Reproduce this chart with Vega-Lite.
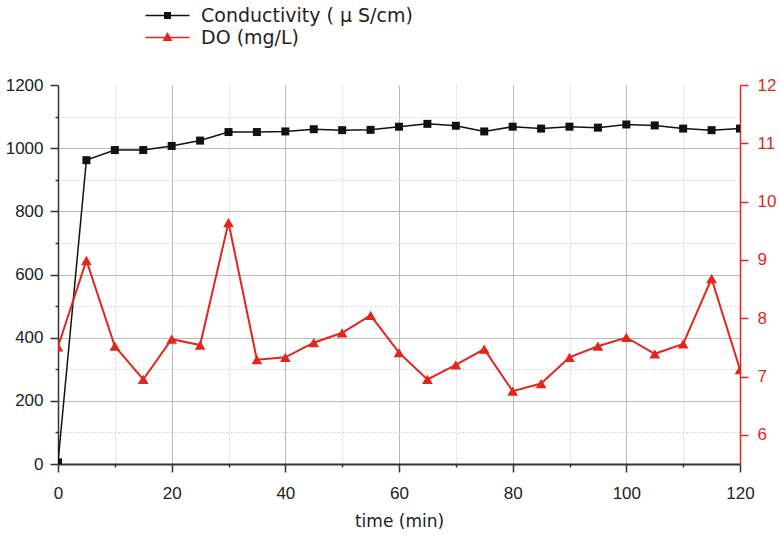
{
  "$schema": "https://vega.github.io/schema/vega-lite/v6.json",
  "width": 682,
  "height": 379,
  "autosize": {"type": "none"},
  "padding": {"left": 58, "top": 85, "right": 40, "bottom": 72},
  "background": "white",
  "config": {
    "view": {"stroke": null},
    "font": "Liberation Sans",
    "legend": {
      "orient": "none",
      "legendX": 100,
      "legendY": -79,
      "symbolSize": 100,
      "symbolStrokeWidth": 1.5,
      "symbolOpacity": 1,
      "labelFont": "DejaVu Sans",
      "labelFontSize": 19,
      "labelColor": "#222222",
      "labelOffset": 24,
      "labelLimit": 0,
      "rowPadding": 2
    }
  },
  "data": {
    "values": [
      {"time": 0, "conductivity": 5, "DO": 7.51},
      {"time": 5, "conductivity": 962, "DO": 8.99},
      {"time": 10, "conductivity": 994, "DO": 7.52},
      {"time": 15, "conductivity": 994, "DO": 6.95},
      {"time": 20, "conductivity": 1007, "DO": 7.64},
      {"time": 25, "conductivity": 1024, "DO": 7.54},
      {"time": 30, "conductivity": 1051, "DO": 9.64},
      {"time": 35, "conductivity": 1051, "DO": 7.29},
      {"time": 40, "conductivity": 1053, "DO": 7.33},
      {"time": 45, "conductivity": 1060, "DO": 7.58},
      {"time": 50, "conductivity": 1057, "DO": 7.75},
      {"time": 55, "conductivity": 1058, "DO": 8.05},
      {"time": 60, "conductivity": 1068, "DO": 7.41},
      {"time": 65, "conductivity": 1077, "DO": 6.95},
      {"time": 70, "conductivity": 1071, "DO": 7.20},
      {"time": 75, "conductivity": 1053, "DO": 7.47},
      {"time": 80, "conductivity": 1068, "DO": 6.75},
      {"time": 85, "conductivity": 1062, "DO": 6.88},
      {"time": 90, "conductivity": 1068, "DO": 7.33},
      {"time": 95, "conductivity": 1065, "DO": 7.52},
      {"time": 100, "conductivity": 1075, "DO": 7.67},
      {"time": 105, "conductivity": 1072, "DO": 7.39},
      {"time": 110, "conductivity": 1062, "DO": 7.56},
      {"time": 115, "conductivity": 1057, "DO": 8.68},
      {"time": 120, "conductivity": 1062, "DO": 7.12}
    ]
  },
  "encoding": {
    "x": {
      "field": "time",
      "type": "quantitative",
      "scale": {"domain": [0, 120], "nice": false, "zero": false},
      "axis": {
        "values": [0, 10, 20, 30, 40, 50, 60, 70, 80, 90, 100, 110, 120],
        "labelExpr": "datum.value % 20 === 0 ? datum.label : ''",
        "title": "time (min)",
        "grid": true,
        "gridColor": {"condition": {"test": "datum.value % 20 !== 0", "value": "#d4d4d4"}, "value": "#b8b8b8"},
        "gridDash": {"condition": {"test": "datum.value % 20 !== 0", "value": [2, 2]}, "value": []},
        "gridWidth": 1,
        "domainColor": "#333333",
        "domainWidth": 2,
        "tickColor": "#333333",
        "tickWidth": 1.5,
        "tickSize": {"condition": {"test": "datum.value % 20 !== 0", "value": 3}, "value": 8},
        "labelFont": "Liberation Sans",
        "labelFontSize": 17,
        "labelColor": "#222222",
        "labelPadding": 13,
        "labelFlush": false,
        "labelOverlap": false,
        "titleFont": "DejaVu Sans",
        "titleFontSize": 17,
        "titleFontWeight": "normal",
        "titleColor": "#222222",
        "titlePadding": 12
      }
    }
  },
  "layer": [
    {
      "encoding": {
        "y": {
          "field": "conductivity",
          "type": "quantitative",
          "scale": {"domain": [0, 1200], "nice": false},
          "axis": {
            "orient": "left",
            "values": [0, 100, 200, 300, 400, 500, 600, 700, 800, 900, 1000, 1100, 1200],
            "format": "d",
            "labelExpr": "datum.value % 200 === 0 ? datum.label : ''",
            "title": null,
            "grid": true,
            "gridColor": {"condition": {"test": "datum.value % 200 !== 0", "value": "#d4d4d4"}, "value": "#bcbcbc"},
            "gridDash": {"condition": {"test": "datum.value % 200 !== 0", "value": [2, 2]}, "value": []},
            "gridOpacity": {"condition": {"test": "datum.value === 1200 || datum.value === 0", "value": 0}, "value": 1},
            "gridWidth": 1.2,
            "domainColor": "#333333",
            "domainWidth": 1.5,
            "tickColor": "#333333",
            "tickWidth": 1.5,
            "tickSize": {"condition": {"test": "datum.value % 200 !== 0", "value": 3}, "value": 8},
            "labelFont": "Liberation Sans",
            "labelFontSize": 17,
            "labelColor": "#222222",
            "labelPadding": 7
          }
        }
      },
      "layer": [
        {"mark": {"type": "line", "color": "#111111", "strokeWidth": 1.5, "clip": true}, "encoding": {}},
        {"mark": {"type": "point", "shape": "square", "filled": true, "size": 64, "opacity": 1, "color": "#111111", "clip": true}, "encoding": {}},
        {
          "mark": {"type": "point", "filled": true, "size": 0, "strokeWidth": 0, "clip": true},
          "encoding": {
            "fill": {
              "datum": "Conductivity ( μ S/cm)",
              "type": "nominal",
              "scale": {"domain": ["Conductivity ( μ S/cm)", "DO (mg/L)"], "range": ["#111111", "#e3261c"]},
              "legend": {"title": null}
            },
            "stroke": {
              "datum": "Conductivity ( μ S/cm)",
              "type": "nominal",
              "scale": {"domain": ["Conductivity ( μ S/cm)", "DO (mg/L)"], "range": ["#111111", "#e3261c"]},
              "legend": {"title": null}
            },
            "shape": {
              "datum": "Conductivity ( μ S/cm)",
              "type": "nominal",
              "scale": {"domain": ["Conductivity ( μ S/cm)", "DO (mg/L)"], "range": ["M-4.4,0H4.4M-0.55,-0.55H0.55V0.55H-0.55Z", "M-4.4,0H4.4M0,-0.8L0.75,0.55H-0.75Z"]},
              "legend": {"title": null}
            }
          }
        }
      ]
    },
    {
      "encoding": {
        "y": {
          "field": "DO",
          "type": "quantitative",
          "scale": {"domain": [5.5, 12], "nice": false, "zero": false},
          "axis": {
            "orient": "right",
            "values": [6, 6.5, 7, 7.5, 8, 8.5, 9, 9.5, 10, 10.5, 11, 11.5, 12],
            "format": "d",
            "labelExpr": "datum.value % 1 === 0 ? datum.label : ''",
            "title": null,
            "grid": false,
            "domainColor": "#e3261c",
            "domainWidth": 1.5,
            "tickColor": "#e3261c",
            "tickWidth": 1.5,
            "tickSize": {"condition": {"test": "datum.value % 1 !== 0", "value": 3}, "value": 8},
            "labelFont": "Liberation Sans",
            "labelFontSize": 17,
            "labelColor": "#e3261c",
            "labelPadding": 9
          }
        }
      },
      "layer": [
        {"mark": {"type": "line", "color": "#e3261c", "strokeWidth": 2, "clip": true}, "encoding": {}},
        {"mark": {"type": "point", "shape": "triangle-up", "filled": true, "size": 115, "opacity": 1, "color": "#e3261c", "clip": true}, "encoding": {}},
        {
          "mark": {"type": "point", "filled": true, "size": 0, "strokeWidth": 0, "clip": true},
          "encoding": {
            "fill": {"datum": "DO (mg/L)", "type": "nominal", "legend": {"title": null}},
            "stroke": {"datum": "DO (mg/L)", "type": "nominal", "legend": {"title": null}},
            "shape": {"datum": "DO (mg/L)", "type": "nominal", "legend": {"title": null}}
          }
        }
      ]
    }
  ],
  "resolve": {"scale": {"y": "independent"}}
}
